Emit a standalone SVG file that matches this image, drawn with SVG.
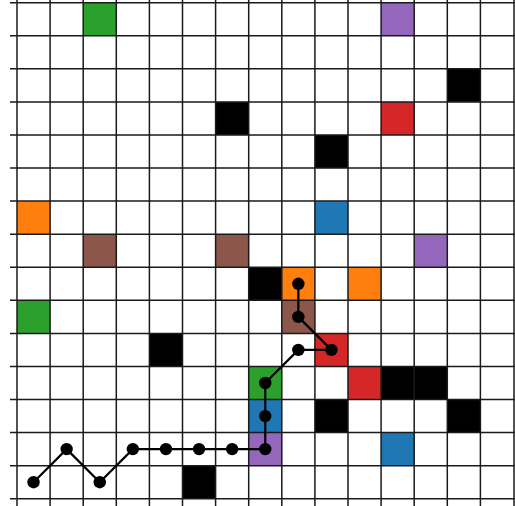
<svg xmlns="http://www.w3.org/2000/svg" width="515" height="506" viewBox="0 0 515 506">
<style>
.gl{stroke:#1a1a1a;stroke-width:1.5;fill:none}
.k{fill:#000}.g{fill:#2ca02c}.p{fill:#9467bd}.r{fill:#d62728}.o{fill:#ff7f0e}.b{fill:#1f77b4}.n{fill:#8c564b}
.path{stroke:#000;stroke-width:2.2;fill:none;stroke-linejoin:round}
.dot{fill:#000}
</style>
<rect width="515" height="506" fill="#fff"/>
<g id="cells">
<g id="cell-r0c2"><rect class="g" x="83.2" y="2.7" width="33.1" height="33.07"/></g>
<g id="cell-r0c11"><rect class="p" x="381.1" y="2.7" width="33.1" height="33.07"/></g>
<g id="cell-r2c13"><rect class="k" x="447.3" y="68.84" width="33.1" height="33.07"/></g>
<g id="cell-r3c6"><rect class="k" x="215.6" y="101.91" width="33.1" height="33.07"/></g>
<g id="cell-r3c11"><rect class="r" x="381.1" y="101.91" width="33.1" height="33.07"/></g>
<g id="cell-r4c9"><rect class="k" x="314.9" y="134.98" width="33.1" height="33.07"/></g>
<g id="cell-r6c0"><rect class="o" x="17" y="201.12" width="33.1" height="33.07"/></g>
<g id="cell-r6c9"><rect class="b" x="314.9" y="201.12" width="33.1" height="33.07"/></g>
<g id="cell-r7c2"><rect class="n" x="83.2" y="234.19" width="33.1" height="33.07"/></g>
<g id="cell-r7c6"><rect class="n" x="215.6" y="234.19" width="33.1" height="33.07"/></g>
<g id="cell-r7c12"><rect class="p" x="414.2" y="234.19" width="33.1" height="33.07"/></g>
<g id="cell-r8c7"><rect class="k" x="248.7" y="267.26" width="33.1" height="33.07"/></g>
<g id="cell-r8c8"><rect class="o" x="281.8" y="267.26" width="33.1" height="33.07"/></g>
<g id="cell-r8c10"><rect class="o" x="348" y="267.26" width="33.1" height="33.07"/></g>
<g id="cell-r9c0"><rect class="g" x="17" y="300.33" width="33.1" height="33.07"/></g>
<g id="cell-r9c8"><rect class="n" x="281.8" y="300.33" width="33.1" height="33.07"/></g>
<g id="cell-r10c4"><rect class="k" x="149.4" y="333.4" width="33.1" height="33.07"/></g>
<g id="cell-r10c9"><rect class="r" x="314.9" y="333.4" width="33.1" height="33.07"/></g>
<g id="cell-r11c7"><rect class="g" x="248.7" y="366.47" width="33.1" height="33.07"/></g>
<g id="cell-r11c10"><rect class="r" x="348" y="366.47" width="33.1" height="33.07"/></g>
<g id="cell-r11c11"><rect class="k" x="381.1" y="366.47" width="66.2" height="33.07"/></g>
<g id="cell-r12c7"><rect class="b" x="248.7" y="399.54" width="33.1" height="33.07"/></g>
<g id="cell-r12c9"><rect class="k" x="314.9" y="399.54" width="33.1" height="33.07"/></g>
<g id="cell-r12c13"><rect class="k" x="447.3" y="399.54" width="33.1" height="33.07"/></g>
<g id="cell-r13c7"><rect class="p" x="248.7" y="432.61" width="33.1" height="33.07"/></g>
<g id="cell-r13c11"><rect class="b" x="381.1" y="432.61" width="33.1" height="33.07"/></g>
<g id="cell-r14c5"><rect class="k" x="182.5" y="465.68" width="33.1" height="33.07"/></g>
</g>
<g id="grid" class="gl">
<path d="M10 2.7H515M10 35.77H515M10 68.84H515M10 101.91H515M10 134.98H515M10 168.05H515M10 201.12H515M10 234.19H515M10 267.26H515M10 300.33H515M10 333.4H515M10 366.47H515M10 399.54H515M10 432.61H515M10 465.68H515M10 498.75H515"/>
<path d="M17 0V506M50.1 0V506M83.2 0V506M116.3 0V506M149.4 0V506M182.5 0V506M215.6 0V506M248.7 0V506M281.8 0V506M314.9 0V506M348 0V506M381.1 0V506M414.2 0V506M447.3 0V506M480.4 0V506M514 0V506"/>
</g>
<g id="connectors">
<polyline class="path" points="33.55,482.2 66.65,449.1 99.75,482.2 132.85,449.1 165.95,449.1 199.05,449.1 232.15,449.1 265.25,449.1 265.25,416.1 265.25,383 298.35,349.9 331.45,349.9 298.35,316.9 298.35,283.8"/>
</g>
<g id="waypoints" class="dot">
<circle cx="33.55" cy="482.2" r="6.2"/>
<circle cx="66.65" cy="449.1" r="6.2"/>
<circle cx="99.75" cy="482.2" r="6.2"/>
<circle cx="132.85" cy="449.1" r="6.2"/>
<circle cx="165.95" cy="449.1" r="6.2"/>
<circle cx="199.05" cy="449.1" r="6.2"/>
<circle cx="232.15" cy="449.1" r="6.2"/>
<circle cx="265.25" cy="449.1" r="6.2"/>
<circle cx="265.25" cy="416.1" r="6.2"/>
<circle cx="265.25" cy="383" r="6.2"/>
<circle cx="298.35" cy="349.9" r="6.2"/>
<circle cx="331.45" cy="349.9" r="6.2"/>
<circle cx="298.35" cy="316.9" r="6.2"/>
<circle cx="298.35" cy="283.8" r="6.2"/>
</g>
</svg>
